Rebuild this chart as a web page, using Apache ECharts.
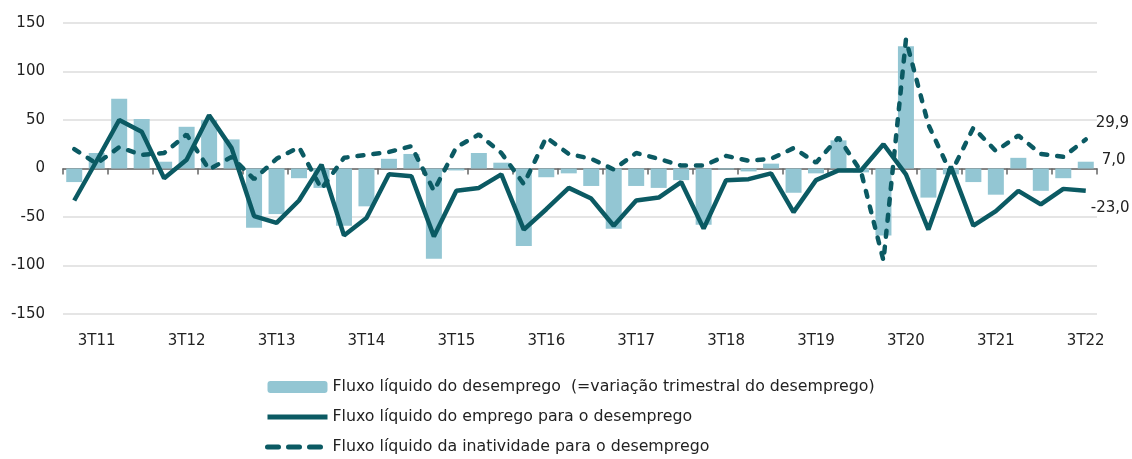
<!DOCTYPE html>
<html>
<head>
<meta charset="utf-8">
<script src="https://cdn.jsdelivr.net/npm/echarts@6/dist/echarts.min.js"></script>
<style>
  html, body { margin: 0; padding: 0; background: #fff; }
  #chart { width: 1132px; height: 459px; }
</style>
</head>
<body>
<div id="chart"></div>
<script>
// trimestres (2T11 .. 3T22)
const categories = [
  '2T11', '3T11', '4T11',
  '1T12', '2T12', '3T12', '4T12',
  '1T13', '2T13', '3T13', '4T13',
  '1T14', '2T14', '3T14', '4T14',
  '1T15', '2T15', '3T15', '4T15',
  '1T16', '2T16', '3T16', '4T16',
  '1T17', '2T17', '3T17', '4T17',
  '1T18', '2T18', '3T18', '4T18',
  '1T19', '2T19', '3T19', '4T19',
  '1T20', '2T20', '3T20', '4T20',
  '1T21', '2T21', '3T21', '4T21',
  '1T22', '2T22', '3T22'
]

// Fluxo líquido do desemprego (barras)
const desemprego = [
  -14, 16, 72,
  51, 7, 43, 50,
  30, -61, -47, -10,
  -20, -59, -39, 10,
  15, -93, -2, 16,
  6, -80, -9, -5,
  -18, -62, -18, -20,
  -12, -58, -1, -3,
  5, -25, -5, 29,
  -4, -69, 126, -30,
  -6, -14, -27, 11,
  -23, -10, 7.0
]

// Fluxo líquido do emprego para o desemprego
const emprego = [
  -33, 8, 50,
  38, -10, 9, 55,
  21, -49, -56, -33,
  4, -69, -51, -6,
  -8, -70, -23, -20,
  -6, -63, -42, -20,
  -31, -59, -33, -30,
  -14, -62, -12, -11,
  -5, -45, -12, -2,
  -2, 25, -6, -63,
  2, -59, -44, -23,
  -37, -21, -23.0
]

// Fluxo líquido da inatividade para o desemprego
const inatividade = [
  20, 5, 22,
  14, 16, 35, -1,
  12, -11, 10, 22,
  -21, 11, 14, 17,
  23, -23, 22, 35,
  16, -16, 32, 15,
  10, -1, 16, 10,
  3, 3, 13, 8,
  10, 21, 6, 32,
  -3, -95, 133, 45,
  -5, 42, 18, 34,
  15, 12, 29.9
]

const yTicks = { min: -150, max: 150, interval: 50 }

const names = [
  'Fluxo líquido do desemprego  (=variação trimestral do desemprego)',
  'Fluxo líquido do emprego para o desemprego',
  'Fluxo líquido da inatividade para o desemprego'
]

// cores
const barColor = '#93c6d3'
const lineColor = '#0b5a63'
const fontFamily = 'DejaVu Sans'

const fmt = v => v.toFixed(1).replace('.', ',')
const last = categories.length - 1

const chart = echarts.init(document.getElementById('chart'))

const option = {
  animation: false,
  textStyle: { fontFamily },
  grid: {
    left: 63,
    right: 35,
    top: 23,
    bottom: 145,
    containLabel: false
  },
  legend: {
    orient: 'vertical',
    left: 265,
    top: 378,
    height: 90,
    padding: 0,
    itemWidth: 60,
    itemHeight: 12,
    itemGap: 12,
    itemTextGap: 5,
    data: [
      { name: names[0] },
      { name: names[1], itemStyle: { opacity: 0 }, lineStyle: { width: 5 } },
      { name: names[2], itemStyle: { opacity: 0 }, lineStyle: { width: 5, type: [11, 10], cap: 'round' } }
    ],
    textStyle: {
      fontSize: 15.8,
      color: '#222',
      lineHeight: 18,
      fontFamily
    }
  },
  xAxis: [
    {
      type: 'category',
      data: categories,
      axisLine: { onZero: true, lineStyle: { color: '#666', width: 1.5 } },
      axisTick: { show: true, length: 6, lineStyle: { color: '#666', width: 1.5 } },
      axisLabel: { show: false },
      splitLine: { show: false }
    },
    {
      type: 'category',
      data: categories,
      position: 'bottom',
      axisLine: { show: false, onZero: false },
      axisTick: { show: false },
      axisLabel: {
        interval: (idx) => idx % 4 === 1,
        fontSize: 15,
        color: '#222',
        margin: 20,
        fontFamily
      },
      splitLine: { show: false }
    }
  ],
  yAxis: {
    type: 'value',
    min: yTicks.min,
    max: yTicks.max,
    interval: yTicks.interval,
    axisLine: { show: false },
    axisTick: { show: false },
    axisLabel: { fontSize: 15, color: '#222', margin: 18, fontFamily },
    splitLine: { lineStyle: { color: '#dcdcdc', width: 1.5 } }
  },
  series: [
    {
      name: names[0],
      type: 'bar',
      barWidth: 16,
      itemStyle: { color: barColor },
      data: desemprego.map((v, i) => i === last ? {
        value: v,
        label: {
          show: true,
          position: 'right',
          distance: 6,
          offset: [2, -5],
          formatter: fmt(v),
          fontSize: 15,
          color: '#222',
          fontFamily
        }
      } : v)
    },
    {
      name: names[1],
      type: 'line',
      symbol: 'none',
      lineStyle: { color: lineColor, width: 4.5 },
      itemStyle: { color: lineColor },
      endLabel: {
        show: true,
        formatter: () => fmt(emprego[last]),
        distance: 5,
        offset: [0, 17],
        fontSize: 15,
        color: '#222',
        fontFamily
      },
      data: emprego
    },
    {
      name: names[2],
      type: 'line',
      symbol: 'none',
      lineStyle: { color: lineColor, width: 4.5, type: [6, 10], cap: 'round' },
      itemStyle: { color: lineColor },
      endLabel: {
        show: true,
        formatter: () => fmt(inatividade[last]),
        distance: 5,
        offset: [5, -16],
        fontSize: 15,
        color: '#222',
        fontFamily
      },
      data: inatividade
    }
  ]
}

chart.setOption(option)
</script>
</body>
</html>
